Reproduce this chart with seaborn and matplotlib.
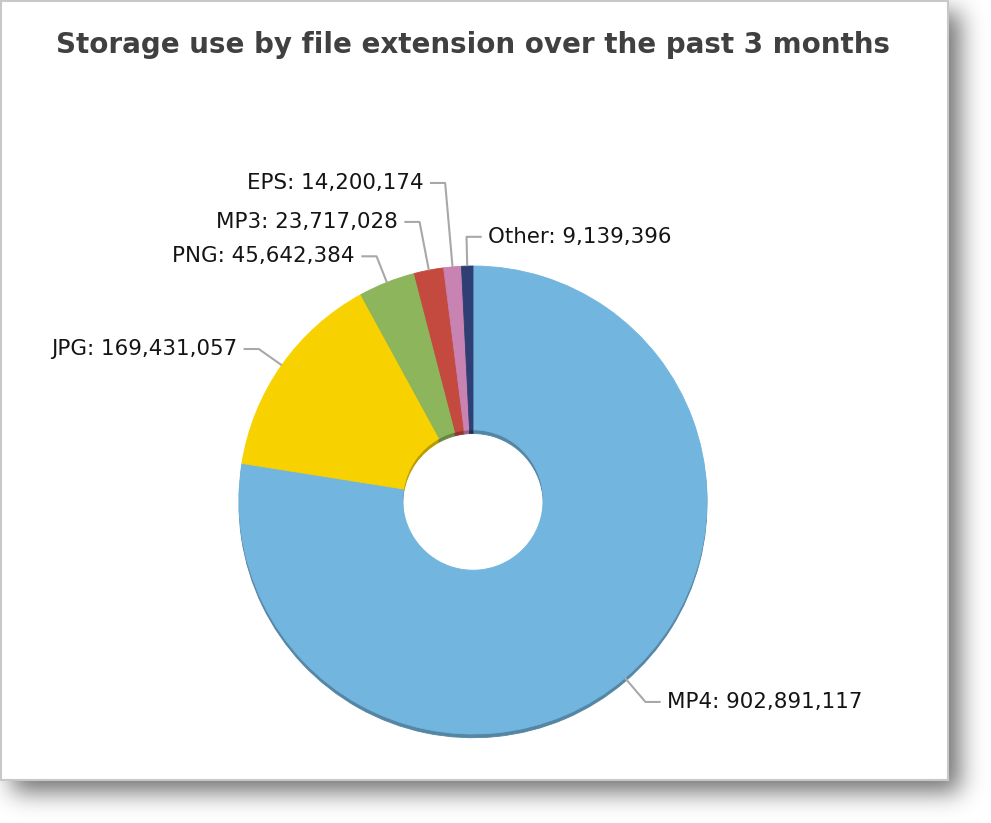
import matplotlib
matplotlib.use("Agg")
import matplotlib.pyplot as plt
import numpy as np
import seaborn as sns
from matplotlib.patches import Rectangle

# data
extensions = ["MP4", "JPG", "PNG", "MP3", "EPS", "Other"]
storage = [902891117, 169431057, 45642384, 23717028, 14200174, 9139396]
title = "Storage use by file extension over the past 3 months"

# styling
colors = ["#72B5DE", "#F8D200", "#8CB55C", "#C4493F", "#C883B2", "#2F3F73"]
elbow_r = [1.135, 1.12, 1.12, 1.21, 1.36, 1.125]
side = [1, -1, -1, -1, -1, 1]

W, H = 991, 823
CX, CY, R = 473, 500, 234  # pie centre / radius in pixels
CARD_W, CARD_H = 948, 780

sns.set_theme(style="white")
plt.rcParams["font.family"] = ["DejaVu Sans"]

fig = plt.figure(figsize=(W / 100, H / 100), dpi=100)
fig.patch.set_facecolor("white")

# background: blurred drop shadow + card
bg = fig.add_axes([0, 0, 1, 1])
bg.axis("off")


def blurred_step(n, lo, hi, sigma):
    x = np.arange(n)
    m = ((x >= lo) & (x < hi)).astype(float)
    k = np.arange(-3 * sigma, 3 * sigma + 1)
    g = np.exp(-0.5 * (k / sigma) ** 2)
    g /= g.sum()
    return np.convolve(m, g, mode="same")


off = 12
fx = blurred_step(W, off, CARD_W + off, 12)
fy = blurred_step(H, off, CARD_H + off, 12)
alpha = np.outer(fy, fx) * 0.72
shadow = np.zeros((H, W, 4))
shadow[..., :3] = 0.22
shadow[..., 3] = alpha
bg.imshow(shadow, extent=(0, W, H, 0), zorder=0, interpolation="bilinear")
bg.add_patch(Rectangle((0.5, 0.5), CARD_W - 1, CARD_H - 1, facecolor="white",
                       edgecolor="#c8c8c8", linewidth=1.5, zorder=1))
bg.set_xlim(0, W)
bg.set_ylim(H, 0)

fig.text(CX / W, 1 - 45 / H, title, ha="center", va="center",
         fontsize=20, fontweight="bold", color="#404040")

# donut
ax = fig.add_axes([0, 0, 1, 1])
ax.patch.set_alpha(0)

dark = [tuple(c * 0.74 for c in matplotlib.colors.to_rgb(col)) for col in colors]
under, _ = ax.pie(storage, colors=dark, startangle=90, counterclock=False,
                  radius=1, center=(0, -0.016), frame=True,
                  wedgeprops=dict(width=0.70, linewidth=0.6))
wedges, _ = ax.pie(storage, colors=colors, startangle=90, counterclock=False,
                   radius=1, frame=True,
                   wedgeprops=dict(width=0.70, linewidth=0.6))
for w in list(under) + list(wedges):
    w.set_edgecolor(w.get_facecolor())

ax.set_xlim(-CX / R, (W - CX) / R)
ax.set_ylim(-(H - CY) / R, CY / R)
ax.set_aspect("equal")
ax.axis("off")

for w, name, val, er, s in zip(wedges, extensions, storage, elbow_r, side):
    ang = np.deg2rad((w.theta1 + w.theta2) / 2)
    x0, y0 = np.cos(ang), np.sin(ang)
    x1, y1 = er * np.cos(ang), er * np.sin(ang)
    x2 = x1 + s * 0.065
    ax.plot([x0, x1, x2], [y0, y1, y1], color="#a8a8a8", linewidth=1.5,
            solid_capstyle="butt", zorder=3)
    ax.text(x2 + s * 0.028, y1, f"{name}: {val:,}", fontsize=15.4,
            color="#141414", ha="left" if s > 0 else "right", va="center")

fig.savefig("out.png", dpi=100, facecolor="white")
